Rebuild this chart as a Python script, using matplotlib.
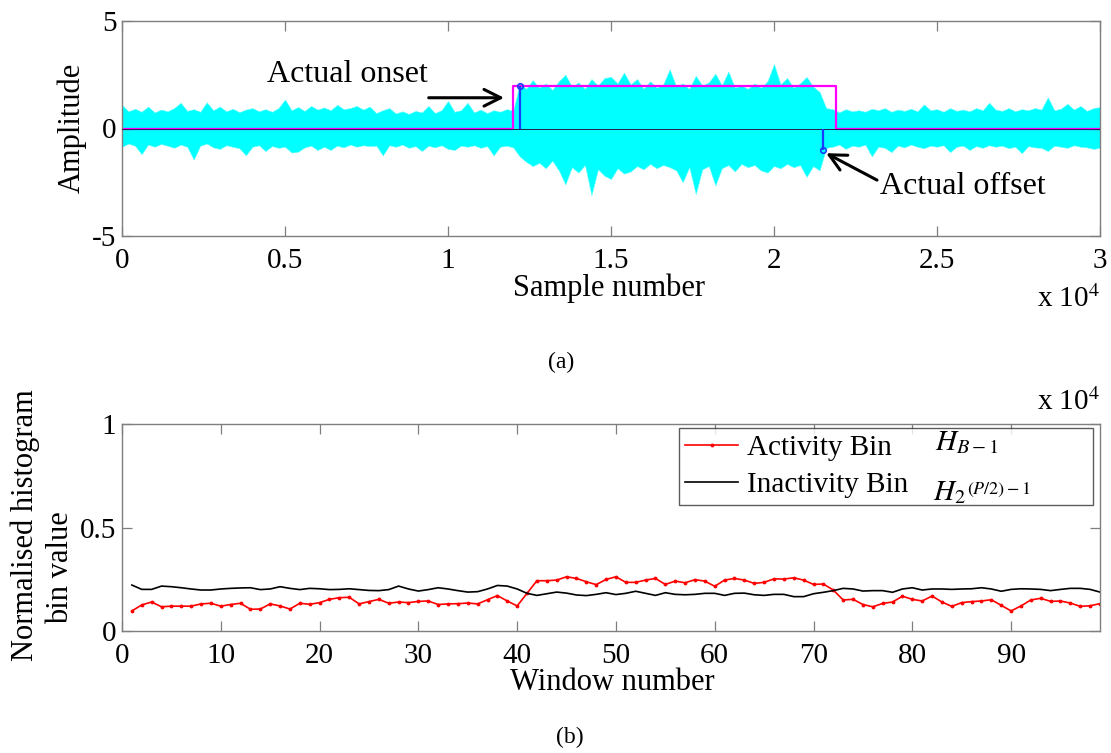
import numpy as np
import matplotlib
matplotlib.use("Agg")
import matplotlib.pyplot as plt

plt.rcParams['font.family'] = ['Liberation Serif', 'DejaVu Serif']
plt.rcParams['mathtext.fontset'] = 'stix'

# ---------------- (a) raw signal -----------------
# envelope of the recorded signal, one value every env_step samples
env_step = 200
sig_upper = [
    1.10, 0.80, 0.92, 0.78, 1.02, 0.75, 0.88, 0.80, 0.95, 1.20,
    0.82, 0.90, 0.78, 1.22, 0.85, 1.02, 0.80, 0.92, 0.76, 0.88,
    0.95, 0.80, 0.90, 0.78, 0.95, 1.35, 0.85, 1.00, 0.82, 1.05,
    0.88, 0.98, 0.85, 1.10, 0.90, 0.95, 1.05, 0.88, 1.02,
    0.72, 0.85, 0.95, 0.70, 0.80, 0.68, 0.82, 0.75, 1.05, 0.72,
    0.85, 1.28, 0.78, 0.85, 1.20, 0.75, 0.88, 0.72, 0.85, 0.78,
    0.90, 0.82,
    2.10, 1.85, 2.25, 1.90, 2.10, 1.80, 2.20, 2.50, 1.95, 2.15,
    1.85, 2.30, 2.00, 2.35, 2.40, 2.10,
    2.60, 2.05, 2.30, 1.85, 2.20, 1.90, 2.05, 2.75, 1.95, 2.10,
    1.85, 2.45, 2.00, 2.15, 2.55, 2.00, 2.65, 1.90, 2.00, 1.85,
    2.10, 1.90, 2.20, 3.00, 2.05, 2.35, 1.90, 2.10, 2.40, 1.95,
    1.70,
    0.95, 0.90, 0.75, 0.90, 0.80, 0.85, 0.78, 0.92,
    0.85, 0.95, 0.78, 0.88, 0.82, 0.92, 0.80, 1.12, 0.85, 0.90,
    0.78, 0.95, 0.82, 0.88, 0.80, 0.95, 0.85, 1.20, 0.88, 0.82,
    0.95, 0.80, 0.90, 0.85, 0.95, 0.88, 1.45, 0.85, 0.92, 1.15,
    0.88, 1.05, 0.82, 0.95, 1.00,
]
sig_lower = [
    -0.85, -0.70, -0.80, -1.20, -0.75, -0.85, -0.72, -0.80, -0.90, -0.75,
    -0.85, -1.45, -0.80, -0.70, -0.88, -0.95, -0.78, -0.85, -0.92, -1.25,
    -0.85, -0.78, -1.05, -0.82, -0.90, -0.85, -1.12, -1.08, -0.88, -0.80,
    -1.00, -0.85, -1.00, -0.80, -0.88, -0.75, -0.85, -0.78, -0.82,
    -0.80, -1.25, -0.78, -0.85, -0.75, -0.90, -0.82, -1.05, -0.80, -0.88,
    -0.78, -0.95, -1.00, -0.80, -0.85, -0.78, -0.90, -0.82, -1.25, -0.85,
    -0.80, -0.88,
    -1.30, -1.55, -1.75, -1.60, -1.85, -1.50, -1.95, -2.60, -1.80, -2.05,
    -1.70, -3.10, -1.90, -2.20, -2.35, -1.85,
    -2.10, -2.00, -1.75, -1.90, -1.65, -1.85, -1.70, -1.80, -1.95, -2.50,
    -1.80, -3.05, -1.90, -1.75, -2.65, -1.85, -1.70, -2.00, -1.65, -1.80,
    -1.70, -1.95, -2.05, -1.75, -1.85, -1.65, -1.80, -1.70, -2.25, -1.75,
    -1.95,
    -0.90, -0.85, -0.75, -0.95, -0.80, -0.85, -0.75, -1.30,
    -0.85, -0.90, -1.10, -0.80, -0.88, -0.75, -0.85, -0.92, -0.80, -0.85,
    -0.78, -1.10, -0.85, -0.80, -1.00, -0.82, -0.90, -0.78, -0.85, -0.80,
    -0.92, -0.85, -1.15, -0.82, -0.88, -0.90, -1.05, -0.80, -0.85, -0.90,
    -0.78, -0.85, -0.88, -0.95, -0.90,
]

# detector output (step) and true onset/offset markers
detect_x = [0, 12000, 21900, 30000]
detect_y = [0, 2, 0, 0]
true_x = [12200, 21500]
true_y = [2, -1]

top_xticks = [0, 5000, 10000, 15000, 20000, 25000, 30000]
top_xlabels = ['0', '0.5', '1', '1.5', '2', '2.5', '3']
top_yticks = [-5, 0, 5]
top_ylabels = ['-5', '0', '5']

# ---------------- (b) histogram bins -----------------
windows = list(range(1, 100))
activity_bin = [
    0.097, 0.126, 0.140, 0.117, 0.120, 0.120, 0.120, 0.131, 0.134, 0.120,
    0.128, 0.134, 0.105, 0.106, 0.131, 0.121, 0.106, 0.134, 0.129, 0.137,
    0.153, 0.161, 0.163, 0.131, 0.142, 0.153, 0.134, 0.140, 0.137, 0.143,
    0.145, 0.128, 0.131, 0.132, 0.135, 0.131, 0.151, 0.171, 0.145, 0.121,
    0.182, 0.243, 0.243, 0.246, 0.262, 0.254, 0.238, 0.224, 0.249, 0.262,
    0.235, 0.235, 0.246, 0.254, 0.225, 0.241, 0.233, 0.248, 0.241, 0.216,
    0.246, 0.254, 0.246, 0.230, 0.235, 0.252, 0.251, 0.257, 0.246, 0.225,
    0.227, 0.198, 0.150, 0.153, 0.128, 0.117, 0.133, 0.140, 0.168, 0.153,
    0.145, 0.169, 0.140, 0.119, 0.137, 0.142, 0.145, 0.151, 0.124, 0.097,
    0.121, 0.150, 0.158, 0.143, 0.145, 0.135, 0.119, 0.122, 0.132,
]
inactivity_bin = [
    0.222, 0.201, 0.201, 0.217, 0.214, 0.209, 0.203, 0.198, 0.198, 0.203,
    0.206, 0.208, 0.209, 0.200, 0.203, 0.214, 0.206, 0.200, 0.206, 0.204,
    0.200, 0.201, 0.204, 0.200, 0.196, 0.195, 0.200, 0.217, 0.203, 0.193,
    0.200, 0.209, 0.203, 0.195, 0.188, 0.190, 0.203, 0.220, 0.217, 0.203,
    0.182, 0.172, 0.180, 0.188, 0.183, 0.174, 0.171, 0.177, 0.185, 0.176,
    0.182, 0.192, 0.182, 0.172, 0.185, 0.177, 0.175, 0.177, 0.182, 0.182,
    0.172, 0.182, 0.183, 0.175, 0.172, 0.177, 0.177, 0.166, 0.166, 0.180,
    0.187, 0.195, 0.206, 0.203, 0.193, 0.195, 0.195, 0.187, 0.203, 0.209,
    0.198, 0.203, 0.203, 0.201, 0.203, 0.204, 0.209, 0.203, 0.192, 0.201,
    0.204, 0.203, 0.201, 0.195, 0.201, 0.206, 0.206, 0.201, 0.188,
]
bot_xticks = [0, 10, 20, 30, 40, 50, 60, 70, 80, 90]
bot_yticks = [0, 0.5, 1]
bot_ylabels = ['0', '0.5', '1']

W, H = 1111, 753
fig = plt.figure(figsize=(W / 100, H / 100), dpi=100)


def px_axes(left, top, right, bottom):
    return fig.add_axes([left / W, 1 - bottom / H, (right - left) / W, (bottom - top) / H])


SPINE = '#7f7f7f'
TICK_FS = 21
LABEL_FS = 22


def style_axes(ax):
    for s in ax.spines.values():
        s.set_color(SPINE)
        s.set_linewidth(1.0)
    ax.tick_params(direction='in', top=True, right=True, length=7, width=0.9,
                   color=SPINE, labelsize=TICK_FS, labelcolor='black')
    ax.tick_params(axis='x', pad=8.5)
    ax.tick_params(axis='y', pad=4)


ARROW = dict(arrowstyle='->', lw=2.2, color='black', mutation_scale=30,
             shrinkA=0, shrinkB=0)

# ----- top panel -----
ax1 = px_axes(122, 21, 1100, 236)
x_env = np.arange(len(sig_upper)) * env_step
ax1.fill_between(x_env, sig_lower, sig_upper, color='#00ffff', lw=0.4,
                 edgecolor='#66ffff', zorder=1)
ax1.plot(detect_x, detect_y, drawstyle='steps-post', color='#ff00ff', lw=1.6, zorder=2)
ax1.axhline(0, color='#202050', lw=0.7, zorder=3)
ax1.vlines(true_x, 0, true_y, color='#1a3cff', lw=1.6, zorder=4)
ax1.plot(true_x, true_y, 'o', mfc='none', mec='#1a3cff', mew=1.2, ms=4, zorder=5)

ax1.annotate('', xy=(11720, 1.43), xytext=(9408, 1.43), arrowprops=ARROW)
ax1.text(6900, 2.49, 'Actual onset', fontsize=23, ha='center', va='center')
ax1.annotate('', xy=(21600, -1.15), xytext=(23160, -2.40), arrowprops=ARROW)
ax1.text(25800, -2.72, 'Actual offset', fontsize=23, ha='center', va='center')

ax1.set_xlim(0, 30000)
ax1.set_ylim(-5, 5)
ax1.set_xticks(top_xticks)
ax1.set_xticklabels(top_xlabels)
ax1.set_yticks(top_yticks)
ax1.set_yticklabels(top_ylabels)
style_axes(ax1)
fig.text(609 / W, 1 - 288 / H, 'Sample number', fontsize=LABEL_FS, ha='center', va='center')
fig.text(72 / W, 1 - 128 / H, 'Amplitude', fontsize=LABEL_FS, ha='center', va='center',
         rotation=90)
fig.text(1100 / W, 1 - 299 / H, r'x 10$^{4}$', fontsize=TICK_FS, ha='right', va='center')
fig.text(561 / W, 1 - 362 / H, '(a)', fontsize=17, ha='center', va='center')

# ----- bottom panel -----
ax2 = px_axes(122, 424, 1100, 631)
l_act, = ax2.plot(windows, activity_bin, color='#ff0000', lw=1.2, marker='.', ms=3.5)
l_ina, = ax2.plot(windows, inactivity_bin, color='black', lw=1.2)
ax2.set_xlim(0, 99)
ax2.set_ylim(0, 1)
ax2.set_xticks(bot_xticks)
ax2.set_yticks(bot_yticks)
ax2.set_yticklabels(bot_ylabels)
style_axes(ax2)

leg = ax2.legend([l_act, l_ina], ['Activity Bin', 'Inactivity Bin'],
                 loc='upper left', bbox_to_anchor=(679 / W, 1 - 428 / H, 414 / W, 0),
                 bbox_transform=fig.transFigure, mode='expand', borderaxespad=0,
                 frameon=True, fancybox=False, fontsize=TICK_FS, handlelength=1.8,
                 handletextpad=0.3, borderpad=0.22, labelspacing=0.38)
leg.get_frame().set_edgecolor('#333333')
leg.get_frame().set_linewidth(1.0)
fig.text(935 / W, 1 - 443 / H, r'$H_{B-1}$', fontsize=21, ha='left', va='center')
fig.text(933 / W, 1 - 493 / H, r'$H_{2}$', fontsize=21, ha='left', va='center')
fig.text(967 / W, 1 - 490 / H, r'$(P/2)-1$', fontsize=13, ha='left', va='center')

fig.text(612 / W, 1 - 682 / H, 'Window number', fontsize=LABEL_FS, ha='center', va='center')
fig.text(25 / W, 1 - 525 / H, 'Normalised histogram', fontsize=LABEL_FS, ha='center',
         va='center', rotation=90)
fig.text(61 / W, 1 - 568 / H, 'bin value', fontsize=LABEL_FS, ha='center', va='center',
         rotation=90)
fig.text(1100 / W, 1 - 402 / H, r'x 10$^{4}$', fontsize=TICK_FS, ha='right', va='center')
fig.text(570 / W, 1 - 737 / H, '(b)', fontsize=17, ha='center', va='center')

fig.savefig('out.png', dpi=100)
